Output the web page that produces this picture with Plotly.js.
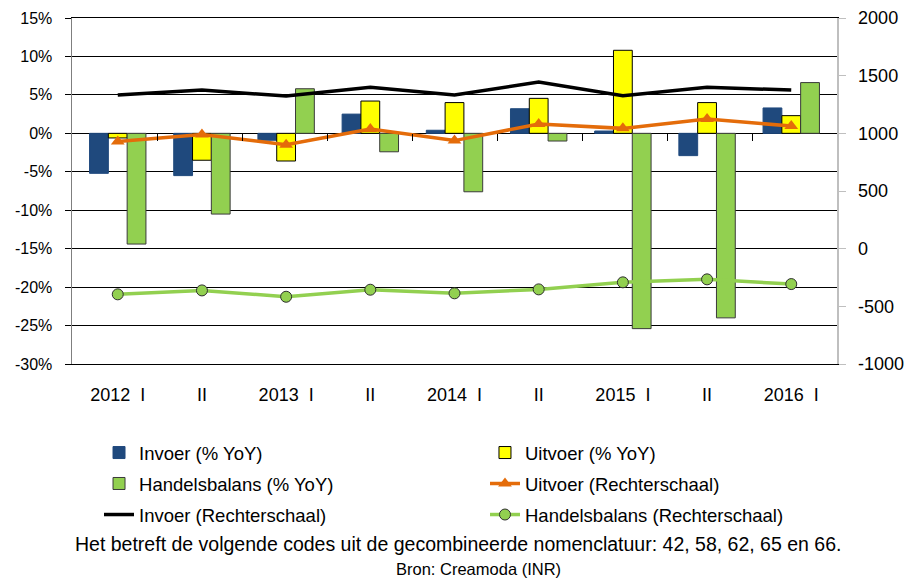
<!DOCTYPE html>
<html>
<head>
<meta charset="utf-8">
<script src="https://cdn.plot.ly/plotly-3.0.1.min.js"></script>
<style>
html,body{margin:0;padding:0;background:#fff;}
#chart{width:906px;height:581px;}
</style>
</head>
<body>
<div id="chart"></div>
<script>
// Periods (unique ids) and their tick labels
const periods = ["2012 I","2012 II","2013 I","2013 II","2014 I","2014 II","2015 I","2015 II","2016 I"];
const tickLabels = ["2012  I","II","2013  I","II","2014  I","II","2015  I","II","2016  I"];

// Left-axis ticks (% YoY) and right-axis ticks (levels)
const leftTickVals = [-30, -25, -20, -15, -10, -5, 0, 5, 10, 15];
const leftTickText = ["-30%","-25%","-20%","-15%","-10%","-5%","0%","5%","10%","15%"];
const rightTickVals = [-1000, -500, 0, 500, 1000, 1500, 2000];
const rightTickText = ["-1000","-500","0","500","1000","1500","2000"];

// % YoY (left axis)
const invoerPct = [-5.2, -5.5, -0.9, 2.5, 0.4, 3.2, 0.3, -2.9, 3.3];
const uitvoerPct = [-0.6, -3.5, -3.6, 4.2, 4.0, 4.55, 10.8, 4.0, 2.3];
const handelsPct = [-14.4, -10.5, 5.8, -2.4, -7.6, -1.0, -25.4, -24.0, 6.6];

// Levels (right axis)
const uitvoerLvl = [930, 990, 901, 1037, 937, 1081, 1043, 1124, 1063];
const invoerLvl = [1332, 1375, 1323, 1399, 1332, 1445, 1326, 1399, 1375];
const handelsLvl = [-396, -362, -417, -356, -387, -353, -292, -266, -307];

const FONT = "Liberation Sans, Arial, sans-serif";

// category boundaries (for the small tick marks on the zero line)
const boundaryIdx = periods.slice(1).map((_, i) => i + 0.5);

const traces = [
  {type:"bar", name:"Invoer (% YoY)", legend:"legend", x:periods, y:invoerPct, xaxis:"x", yaxis:"y",
   marker:{color:"#1F497D", line:{color:"#1F497D", width:1}}},
  {type:"bar", name:"Uitvoer (% YoY)", legend:"legend2", x:periods, y:uitvoerPct, xaxis:"x", yaxis:"y",
   marker:{color:"#FFFF00", line:{color:"#000000", width:1}}},
  {type:"bar", name:"Handelsbalans (% YoY)", legend:"legend3", x:periods, y:handelsPct, xaxis:"x", yaxis:"y",
   marker:{color:"#92D050", line:{color:"#3A3A3A", width:1}}},
  {type:"scatter", mode:"lines+markers", name:"Uitvoer (Rechterschaal)", legend:"legend4",
   x:periods, y:uitvoerLvl, xaxis:"x", yaxis:"y2",
   line:{color:"#E46C0A", width:3.5},
   marker:{symbol:"triangle-up", size:12, color:"#E46C0A"}},
  {type:"scatter", mode:"lines", name:"Invoer (Rechterschaal)", legend:"legend5",
   x:periods, y:invoerLvl, xaxis:"x", yaxis:"y2",
   line:{color:"#000000", width:3.5}},
  {type:"scatter", mode:"lines+markers", name:"Handelsbalans (Rechterschaal)", legend:"legend6",
   x:periods, y:handelsLvl, xaxis:"x", yaxis:"y2",
   line:{color:"#92D050", width:3.5},
   marker:{symbol:"circle", size:11, color:"#92D050", line:{color:"#2F2F2F", width:1}}},
  // invisible helper for the zero-line category tick marks
  {type:"scatter", mode:"none", x:boundaryIdx, y:boundaryIdx.map(()=>null), xaxis:"x2", yaxis:"y",
   showlegend:false, hoverinfo:"skip"}
];

function legendAt(x, y) {
  return {
    orientation:"v", xref:"container", yref:"container",
    x:x, xanchor:"left", y:y, yanchor:"top",
    font:{family:FONT, size:18.5, color:"#000"},
    bgcolor:"rgba(0,0,0,0)", borderwidth:0
  };
}

const COL1 = 0.1093, COL2 = 0.5353;
const ROW1 = 0.253, ROW2 = 0.1997, ROW3 = 0.1463;

const layout = {
  width:906, height:581,
  margin:{l:72, r:69, t:18, b:217, autoexpand:false},
  paper_bgcolor:"#ffffff", plot_bgcolor:"#ffffff",
  font:{family:FONT, size:16, color:"#000"},
  barmode:"group", bargap:0.33, bargroupgap:0,
  showlegend:true,
  hovermode:false,
  xaxis:{
    type:"category", tickvals:periods, ticktext:tickLabels,
    showline:true, mirror:true, linecolor:"#000", linewidth:1,
    ticks:"", showgrid:false, zeroline:false,
    tickfont:{family:FONT, size:18, color:"#000"},
    ticklabelstandoff:14
  },
  xaxis2:{
    type:"linear", overlaying:"x", anchor:"free", position:2/3,
    range:[-0.5, periods.length - 0.5],
    tickvals:boundaryIdx, showticklabels:false,
    ticks:"outside", ticklen:7, tickcolor:"#000", tickwidth:1,
    showline:false, showgrid:false, zeroline:false
  },
  yaxis:{
    range:[-30,15], tickvals:leftTickVals, ticktext:leftTickText,
    showgrid:true, gridcolor:"#000", gridwidth:1,
    zeroline:true, zerolinecolor:"#000", zerolinewidth:1,
    showline:true, linecolor:"#7F7F7F", linewidth:1.5,
    ticks:"outside", ticklen:6, tickcolor:"#000",
    ticklabelstandoff:9,
    tickfont:{family:FONT, size:16, color:"#000"}
  },
  yaxis2:{
    overlaying:"y", side:"right", range:[-1000,2000],
    tickvals:rightTickVals, ticktext:rightTickText,
    showgrid:false, zeroline:false,
    showline:true, linecolor:"#BFBFBF", linewidth:1.5,
    ticks:"outside", ticklen:7, tickcolor:"#BFBFBF",
    ticklabelstandoff:9,
    tickfont:{family:FONT, size:18, color:"#000"}
  },
  legend:  legendAt(COL1, ROW1),
  legend2: legendAt(COL2, ROW1),
  legend3: legendAt(COL1, ROW2),
  legend4: legendAt(COL2, ROW2),
  legend5: legendAt(COL1, ROW3),
  legend6: legendAt(COL2, ROW3),
  annotations:[
    {text:"Het betreft de volgende codes uit de gecombineerde nomenclatuur: 42, 58, 62, 65 en 66.",
     xref:"paper", yref:"paper", x:0.504, y:-0.520, xanchor:"center", yanchor:"middle",
     showarrow:false, font:{family:FONT, size:19.5, color:"#000"}},
    {text:"Bron: Creamoda (INR)",
     xref:"paper", yref:"paper", x:0.532, y:-0.592, xanchor:"center", yanchor:"middle",
     showarrow:false, font:{family:FONT, size:16.5, color:"#000"}}
  ]
};

Plotly.newPlot("chart", traces, layout, {displayModeBar:false, staticPlot:true});
</script>
</body>
</html>
